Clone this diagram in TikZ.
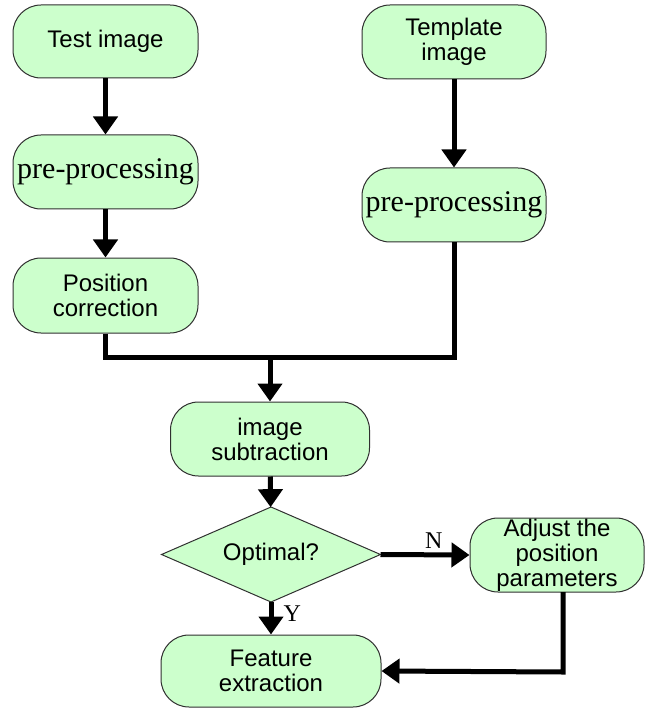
\documentclass[tikz,border=0pt]{standalone}
\usepackage{fontspec}
\setmainfont{Liberation Serif}
\newfontfamily\arialf{Liberation Sans}
\usetikzlibrary{arrows.meta,shapes.geometric}
\definecolor{boxgreen}{HTML}{CCFFCC}
\definecolor{boxline}{HTML}{303030}
\tikzset{
  box/.style={draw=boxline, line width=1pt, fill=boxgreen, rounded corners=28pt,
    inner sep=0pt, align=center, font=\arialf\fontsize{24}{25}\selectfont},
  serifbox/.style={box, font=\fontsize{30}{32}\selectfont},
  decision/.style={diamond, aspect=2.3, draw=boxline, line width=1pt, fill=boxgreen, inner sep=0pt,
    outer sep=0pt, minimum width=219pt, minimum height=95pt, font=\arialf\fontsize{24}{25}\selectfont},
  flow/.style={line width=5pt, -{Triangle[length=18pt,width=24pt]}},
  plain/.style={line width=5pt},
  lbl/.style={font=\fontsize{24}{24}\selectfont, inner sep=0pt}
}
\begin{document}
\begin{tikzpicture}[x=1pt,y=-1pt]
\useasboundingbox (0,0) rectangle (646,708);
\node[box, minimum width=185pt, minimum height=73pt] (test) at (105.5,41.5) {Test image};
\node[serifbox, minimum width=185pt, minimum height=74pt] (pre1) at (105.5,172) {pre-processing};
\node[box, minimum width=185pt, minimum height=75pt] (pos) at (105.5,295.5) {Position\\correction};
\node[box, minimum width=184pt, minimum height=74pt] (tmpl) at (454,42) {Template\\image};
\node[serifbox, minimum width=184pt, minimum height=74pt] (pre2) at (454,205) {pre-processing};
\node[box, minimum width=199pt, minimum height=74pt] (sub) at (270,439) {image\\subtraction};
\node[decision] (opt) at (271,554.5) {Optimal?};
\node[box, minimum width=174pt, minimum height=74pt] (adj) at (557,555) {Adjust the\\position\\parameters};
\node[box, minimum width=220pt, minimum height=72pt] (feat) at (271,671) {Feature\\extraction};

\coordinate (jl) at (105.5,357);
\coordinate (jr) at (454,357);
\coordinate (jm) at (270,357);
\coordinate (aout) at (563,592);
\coordinate (acorner) at (563,672);

\draw[flow] (test) -- (pre1);
\draw[flow] (pre1) -- (pos);
\draw[flow] (tmpl) -- (pre2);
\draw[plain, line join=miter] (pos.south) -- (jl) -- (jr) -- (pre2.south);
\draw[flow] (jm) -- (sub.north);
\draw[flow] (sub) -- (opt);
\draw[flow] (opt.east) -- (adj.west) node[lbl, pos=0.6, above, yshift=4pt] {N};
\draw[flow] (opt.south) -- (feat.north) node[lbl, pos=0.35, right, xshift=10pt] {Y};
\draw[flow, line join=miter] (aout) -- (acorner) -- (feat.east);
\end{tikzpicture}
\end{document}
